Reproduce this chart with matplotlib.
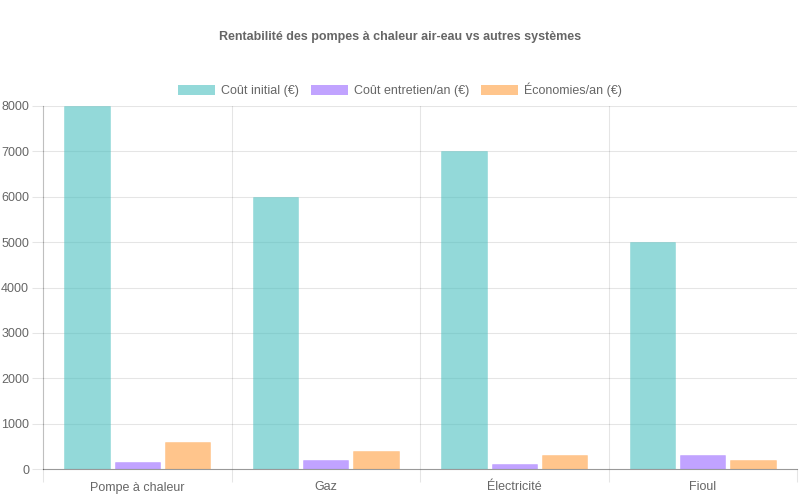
import matplotlib
matplotlib.use("Agg")
import matplotlib.pyplot as plt
import numpy as np

plt.rcParams['font.family'] = ['Liberation Sans', 'DejaVu Sans']

# data
categories = ["Pompe à chaleur", "Gaz", "Électricité", "Fioul"]
cout_initial = [8000, 6000, 7000, 5000]
cout_entretien = [150, 200, 100, 300]
economies = [600, 400, 300, 200]

series = [
    ("Coût initial (€)", cout_initial, (75/255, 192/255, 192/255)),
    ("Coût entretien/an (€)", cout_entretien, (153/255, 102/255, 255/255)),
    ("Économies/an (€)", economies, (255/255, 159/255, 64/255)),
]

fig = plt.figure(figsize=(8, 5), dpi=100)
ax = fig.add_axes([43/800, 1 - 469/500, 754/800, 363/500])

x = np.arange(len(categories))
group = 0.8
slot = group / 3
width = slot * 0.9

handles = []
for i, (label, vals, col) in enumerate(series):
    offs = -group / 2 + slot * (i + 0.5)
    b = ax.bar(x + offs, vals, width, color=col + (0.6,), edgecolor=col + (0.3,),
               linewidth=0.6, label=label, zorder=3)
    handles.append(b)

ax.set_xlim(-0.5, len(categories) - 0.5)
ax.set_ylim(0, 8000)
ax.set_yticks(np.arange(0, 8001, 1000))

# grid like chart.js
grid_col = (0, 0, 0, 0.1)
for yv in np.arange(1000, 8001, 1000):
    ax.axhline(yv, color=grid_col, lw=0.8, zorder=0)
for xv in np.arange(0.5, len(categories) - 0.5, 1):
    ax.axvline(xv, color=grid_col, lw=0.8, zorder=0)

ax.set_xticks(np.arange(-0.5, len(categories), 1), minor=False)
ax.set_xticklabels([])
ax.set_xticks(x, minor=True)
ax.set_xticklabels(categories, minor=True)
ax.tick_params(axis='x', which='major', length=9, color=grid_col, width=0.8)
ax.tick_params(axis='x', which='minor', length=0, pad=9, labelsize=9, labelcolor='#666666')
ax.tick_params(axis='y', length=8, color=grid_col, width=0.8, pad=2,
               labelsize=9, labelcolor='#666666')

for s in ['top', 'right']:
    ax.spines[s].set_visible(False)
ax.spines['left'].set_color((0, 0, 0, 0.25))
ax.spines['left'].set_linewidth(0.8)
ax.spines['bottom'].set_color((0, 0, 0, 0.4))
ax.spines['bottom'].set_linewidth(0.8)
ax.spines['bottom'].set_zorder(4)

fig.text(0.5, 1 - 37/500, "Rentabilité des pompes à chaleur air-eau vs autres systèmes",
         ha='center', va='center', fontsize=9, fontweight='bold', color='#666666')

leg = fig.legend(handles=handles, loc='center', bbox_to_anchor=(0.5, 1 - 90/500), ncol=3,
                 frameon=False, fontsize=9, handlelength=3.0, handleheight=0.9,
                 columnspacing=0.9, handletextpad=0.5, labelcolor='#666666')
for h in leg.legend_handles:
    h.set_edgecolor('none')

fig.savefig("out.png", dpi=100)
